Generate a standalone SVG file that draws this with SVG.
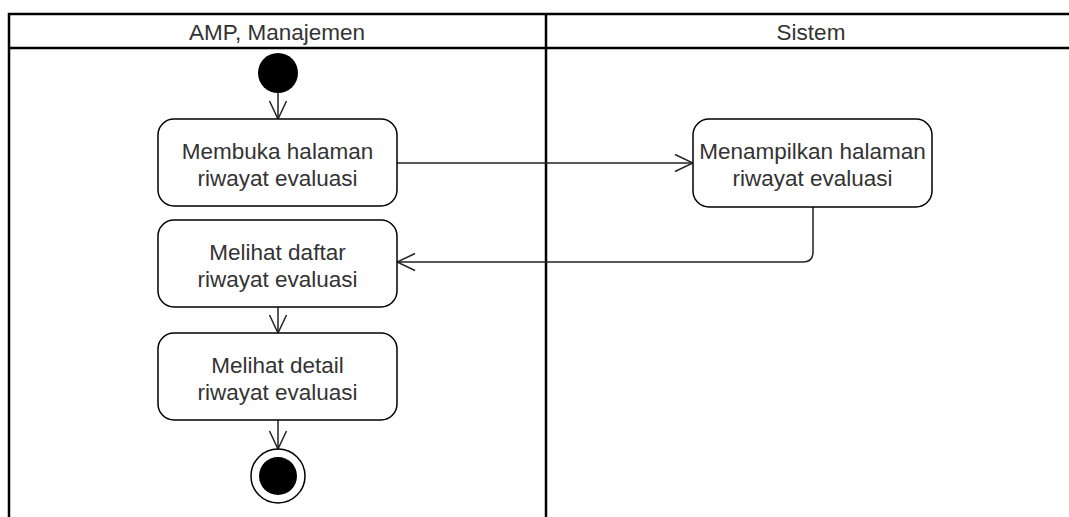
<svg xmlns="http://www.w3.org/2000/svg" width="1069" height="517" viewBox="0 0 1069 517">
<defs>
<style>
.lane{fill:none;stroke:#000;stroke-width:2.5}
.act{fill:#fff;stroke:#000;stroke-width:1.5}
.txt{font-family:"Liberation Sans",Arial,sans-serif;font-size:22.5px;fill:#333;text-anchor:middle}
.edge{fill:none;stroke:#222;stroke-width:1.5}
</style>
<marker id="arr" viewBox="0 0 20 20" refX="19" refY="10" markerWidth="20" markerHeight="20" markerUnits="userSpaceOnUse" orient="auto">
<path d="M1,1.5 L19,10 L1,18.5" fill="none" stroke="#222" stroke-width="1.5"/>
</marker>
</defs>
<rect width="1069" height="517" fill="#fff"/>
<g id="swimlanes">
<path class="lane" d="M9,517 V14 H1069 M9,48 H1069 M546,14 V517"/>
<text class="txt" x="277" y="40">AMP, Manajemen</text>
<text class="txt" x="811" y="40">Sistem</text>
</g>
<g id="connectors">
<path class="edge" d="M278,93 V119" marker-end="url(#arr)"/>
<path class="edge" d="M397,163 H693" marker-end="url(#arr)"/>
<path class="edge" d="M813,207 V252 Q813,262 803,262 H397" marker-end="url(#arr)"/>
<path class="edge" d="M278,307 V333" marker-end="url(#arr)"/>
<path class="edge" d="M278,420 V449" marker-end="url(#arr)"/>
</g>
<g id="start">
<circle cx="278" cy="73" r="20" fill="#000"/>
</g>
<g id="membuka">
<rect class="act" x="158" y="119" width="239" height="87" rx="16"/>
<text class="txt" x="277.5" y="159">Membuka halaman</text>
<text class="txt" x="277.5" y="186">riwayat evaluasi</text>
</g>
<g id="menampilkan">
<rect class="act" x="693" y="119" width="239" height="88" rx="16"/>
<text class="txt" x="812.5" y="159">Menampilkan halaman</text>
<text class="txt" x="812.5" y="186">riwayat evaluasi</text>
</g>
<g id="daftar">
<rect class="act" x="158" y="220" width="239" height="87" rx="16"/>
<text class="txt" x="277.5" y="260">Melihat daftar</text>
<text class="txt" x="277.5" y="287">riwayat evaluasi</text>
</g>
<g id="detail">
<rect class="act" x="158" y="333" width="239" height="87" rx="16"/>
<text class="txt" x="277.5" y="373">Melihat detail</text>
<text class="txt" x="277.5" y="400">riwayat evaluasi</text>
</g>
<g id="end">
<circle cx="278" cy="476" r="27" fill="#fff" stroke="#000" stroke-width="1.5"/>
<circle cx="278" cy="476" r="19" fill="#000"/>
</g>
</svg>
